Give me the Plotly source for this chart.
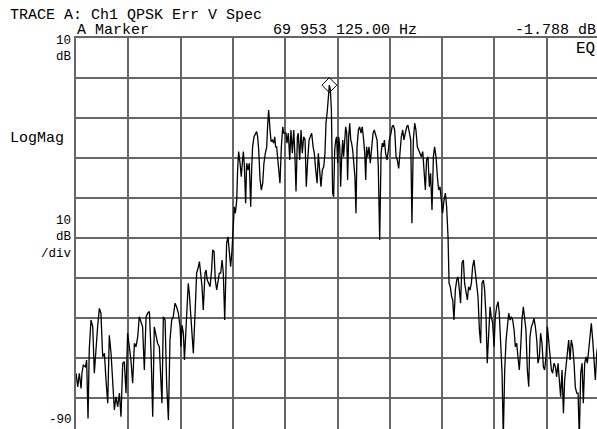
import plotly.graph_objects as go

# ---- data ----
freq_mhz = [
    68.500, 68.510, 68.519, 68.529, 68.534, 68.542, 68.554, 68.561, 68.569, 68.576,
    68.586, 68.596, 68.605, 68.615, 68.624, 68.634, 68.643, 68.653, 68.663, 68.672,
    68.682, 68.691, 68.701, 68.710, 68.720, 68.729, 68.739, 68.749, 68.758, 68.768,
    68.777, 68.787, 68.796, 68.806, 68.815, 68.825, 68.835, 68.844, 68.854, 68.863,
    68.873, 68.882, 68.892, 68.902, 68.911, 68.921, 68.930, 68.940, 68.949, 68.959,
    68.968, 68.978, 68.988, 68.993, 69.001, 69.011, 69.020, 69.030, 69.039, 69.049,
    69.058, 69.068, 69.077, 69.087, 69.097,
    69.102, 69.108, 69.116, 69.122, 69.129, 69.135, 69.144, 69.150, 69.158, 69.165,
    69.173, 69.183, 69.192, 69.202, 69.208, 69.215, 69.223, 69.230, 69.240, 69.246,
    69.253, 69.261, 69.269, 69.278, 69.284, 69.292, 69.299, 69.307, 69.315, 69.322,
    69.330, 69.338, 69.345, 69.353, 69.359, 69.364, 69.372, 69.380, 69.387, 69.395,
    69.403, 69.408, 69.414, 69.422, 69.427, 69.433, 69.441, 69.448, 69.454, 69.460,
    69.466, 69.473, 69.479, 69.487, 69.494, 69.502, 69.508, 69.513, 69.521, 69.529,
    69.536, 69.542, 69.548, 69.556, 69.563, 69.571, 69.578, 69.586, 69.594, 69.599,
    69.605, 69.613, 69.619, 69.626, 69.634, 69.640, 69.645, 69.651, 69.659, 69.664,
    69.670, 69.678, 69.686, 69.691,
    69.705, 69.710, 69.718, 69.726, 69.733, 69.741, 69.749, 69.756, 69.762, 69.770,
    69.775, 69.783, 69.791, 69.798, 69.806, 69.814, 69.821, 69.829, 69.837, 69.844,
    69.852, 69.860, 69.867, 69.875, 69.883, 69.890, 69.898, 69.905, 69.913, 69.921,
    69.928, 69.934, 69.942, 69.947, 69.953125, 69.959, 69.965, 69.969, 69.972, 69.978,
    69.984, 69.990, 69.995, 70.001, 70.007, 70.013, 70.018, 70.024, 70.030, 70.035,
    70.041, 70.047, 70.053, 70.058, 70.064, 70.070, 70.076, 70.081, 70.087, 70.093,
    70.100, 70.106, 70.112, 70.120, 70.127, 70.135, 70.142, 70.150, 70.156, 70.162,
    70.167, 70.173, 70.181, 70.188, 70.196, 70.204, 70.211, 70.219, 70.227, 70.234,
    70.242, 70.250, 70.257, 70.263, 70.269, 70.276, 70.284, 70.292, 70.297,
    70.307, 70.313, 70.320, 70.328, 70.336, 70.343, 70.351, 70.359, 70.366, 70.374,
    70.381, 70.389, 70.397, 70.404, 70.412, 70.420, 70.427, 70.435, 70.443, 70.450,
    70.458, 70.466, 70.473, 70.481, 70.489, 70.496, 70.504, 70.511, 70.519, 70.527,
    70.534, 70.542, 70.550, 70.557, 70.565, 70.573, 70.580, 70.588, 70.596, 70.603,
    70.611, 70.619, 70.626, 70.634, 70.640, 70.647, 70.655, 70.661, 70.668, 70.676,
    70.684, 70.691, 70.699, 70.706, 70.714, 70.722, 70.729, 70.737, 70.745, 70.752,
    70.760, 70.768, 70.775, 70.783, 70.791, 70.798, 70.806, 70.814, 70.821, 70.829,
    70.837, 70.844, 70.852, 70.859, 70.867,
    70.875, 70.882, 70.890, 70.898, 70.905, 70.913, 70.921, 70.928, 70.936, 70.944,
    70.951, 70.959, 70.967, 70.974, 70.982, 70.990, 70.997, 71.005, 71.013, 71.020,
    71.028, 71.035, 71.043, 71.051, 71.058, 71.066, 71.074, 71.081, 71.089, 71.097,
    71.104, 71.112, 71.120, 71.127, 71.135, 71.143, 71.150, 71.158, 71.165, 71.173,
    71.181, 71.188, 71.196, 71.204, 71.211, 71.219, 71.227, 71.234, 71.242, 71.250,
    71.257, 71.265, 71.273, 71.280, 71.288, 71.296, 71.303, 71.311, 71.318, 71.326,
    71.334, 71.341, 71.349, 71.357, 71.364, 71.372, 71.380, 71.387, 71.395, 71.403,
    71.410, 71.418, 71.426, 71.433, 71.441, 71.449, 71.456, 71.464, 71.471, 71.479,
    71.487, 71.496,
]

level_db = [
    -73.8, -77.2, -73.8, -77.6, -73.8, -71.8, -72.2, -70.5, -85.1, -68.0,
    -60.5, -62.2, -73.8, -67.2, -62.2, -57.6, -58.8, -69.7, -68.8, -75.5,
    -81.3, -64.3, -68.8, -75.5, -83.0, -79.7, -82.2, -78.8, -84.7, -71.3,
    -70.9, -78.8, -63.8, -67.2, -70.5, -76.3, -66.3, -67.2, -64.7, -59.7,
    -61.3, -62.2, -73.0, -59.7, -58.8, -58.4, -68.0, -84.7, -62.2, -64.7,
    -66.3, -67.2, -74.7, -81.3, -59.7, -60.5, -76.3, -85.5, -65.5, -60.5,
    -59.7, -56.3, -57.2, -58.8, -62.2,
    -67.2, -61.8, -63.8, -70.5, -64.7, -58.0, -51.3, -53.8, -58.8, -62.2,
    -68.8, -58.8, -48.8, -47.2, -45.9, -48.8, -52.2, -58.0, -48.8, -48.0,
    -50.5, -51.3, -52.2, -48.0, -43.0, -43.4, -50.5, -53.0, -50.5, -48.8,
    -48.8, -45.5, -48.8, -60.5, -50.5, -41.3, -39.7, -43.8, -47.2, -43.0,
    -38.0, -32.2, -33.8, -30.5, -23.0, -18.4, -21.3, -24.7, -21.3, -18.4,
    -22.2, -31.3, -21.3, -23.0, -21.3, -32.2, -22.2, -17.2, -14.7, -13.8,
    -13.4, -14.7, -18.0, -25.5, -28.0, -26.3, -21.3, -18.8, -17.2, -12.2,
    -8.0, -13.0, -15.9, -15.5, -16.3, -14.7, -17.2, -17.2, -20.5, -23.8,
    -26.3, -17.2, -12.2, -13.8,
    -13.8, -16.3, -13.8, -20.5, -13.0, -18.8, -13.0, -19.7, -28.4, -14.7,
    -13.8, -20.5, -13.0, -18.8, -14.7, -15.5, -27.2, -20.5, -15.5, -14.7,
    -13.8, -17.2, -18.8, -23.0, -26.3, -18.8, -23.8, -27.2, -23.0, -22.2,
    -18.8, -11.3, -8.0, -3.8, -1.788, -3.0, -8.0, -19.7, -28.8, -29.7,
    -18.0, -15.5, -14.7, -21.3, -14.7, -17.2, -27.2, -19.7, -15.5, -19.7,
    -14.7, -12.2, -13.8, -25.5, -14.7, -11.3, -15.5, -16.3, -18.0, -21.3,
    -24.7, -33.8, -17.2, -13.0, -12.2, -13.8, -12.2, -15.5, -18.8, -25.5,
    -17.2, -19.7, -17.2, -21.3, -16.3, -13.8, -13.0, -14.7, -15.5, -22.2,
    -40.5, -18.8, -16.3, -17.2, -15.5, -18.8, -20.5, -18.0, -15.5,
    -13.8, -12.2, -11.8, -13.0, -19.7, -20.5, -22.6, -17.2, -14.7, -13.0,
    -15.5, -13.8, -12.2, -11.8, -13.8, -15.5, -36.3, -15.5, -11.3, -13.0,
    -17.2, -18.0, -18.8, -19.7, -18.4, -23.8, -28.0, -20.5, -19.7, -27.2,
    -23.8, -33.0, -19.7, -17.2, -19.7, -24.7, -28.0, -27.2, -31.3, -33.8,
    -30.5, -28.8, -32.2, -39.7, -51.3, -52.2, -54.7, -55.5, -60.5, -53.0,
    -50.5, -49.7, -53.0, -56.3, -46.3, -45.5, -51.3, -53.0, -55.5, -52.2,
    -53.0, -51.3, -47.2, -45.5, -48.8, -50.5, -54.7, -63.0, -66.3, -51.3,
    -50.5, -53.0, -59.7, -71.3, -63.0,
    -57.2, -59.7, -61.3, -67.2, -59.7, -57.2, -55.9, -58.8, -67.2, -73.8,
    -90.0, -73.0, -65.5, -61.3, -58.8, -60.5, -59.7, -60.5, -63.0, -67.2,
    -66.3, -69.7, -73.0, -67.2, -60.5, -57.2, -59.7, -63.0, -73.0, -77.2,
    -64.7, -62.2, -61.3, -60.1, -62.2, -65.5, -71.3, -69.7, -63.8, -66.3,
    -72.2, -73.0, -69.7, -62.2, -65.5, -70.5, -73.0, -73.8, -71.3, -72.2,
    -74.7, -71.3, -75.5, -79.7, -73.0, -83.8, -75.5, -72.2, -68.0, -65.5,
    -70.5, -65.5, -67.2, -71.3, -77.2, -78.8, -78.8, -90.0, -73.8, -71.3,
    -81.3, -71.3, -69.7, -71.3, -68.0, -63.0, -61.3, -65.5, -69.7, -75.5,
    -68.8, -66.0,
]

marker_freq = [69.953125]
marker_db = [-1.788]

span_start, span_stop = 68.5, 71.5   # MHz, 10 divisions
ref_level, db_per_div = 10, 10

# ---- layout geometry ----
W, H = 597, 429
L, T = 76, 38
plot_w = W - L            # visible part of the 523 px graticule
plot_h = H - T            # visible part of the 400 px graticule
full_w, full_h = 523, 400

x_end = span_start + (span_stop - span_start) * plot_w / full_w
y_end = ref_level - 10 * db_per_div * plot_h / full_h

GRID = "#666666"
FONT = "Liberation Mono, DejaVu Sans Mono, monospace"

fig = go.Figure()
fig.add_trace(go.Scatter(
    x=freq_mhz, y=level_db, mode="lines",
    line=dict(color="black", width=1.3),
    hoverinfo="skip", showlegend=False,
))
fig.add_trace(go.Scatter(
    x=marker_freq, y=marker_db, mode="markers",
    marker=dict(symbol="diamond-open", size=11.5, color="black",
                line=dict(color="black", width=1)),
    showlegend=False,
))

def px(x):
    return (x - L) / plot_w

def py(y):
    return (H - y) / plot_h

def label(text, x, y, anchor="left", size=15):
    fig.add_annotation(text=text, x=px(x), y=py(y), xref="paper", yref="paper",
                       xanchor=anchor, yanchor="middle", showarrow=False,
                       borderpad=0, align=anchor,
                       font=dict(family=FONT, size=size, color="black"))

label("TRACE A: Ch1 QPSK Err V Spec", 9, 16)
label("A Marker", 76, 30)
label("69 953 125.00 Hz", 272, 30)
label("-1.788 dB", 597, 30, "right")
label("EQ", 596, 49, "right", 16)
label("10<br>dB", 73, 49, "right", 12.5)
label("LogMag", 9, 138)
label("10<br>dB<br>/div", 73, 238, "right", 12.5)
label("-90<br>dB", 73, 428, "right", 12.5)

fig.update_layout(
    width=W, height=H,
    margin=dict(l=L, r=0, t=T, b=0, pad=0, autoexpand=False),
    paper_bgcolor="white", plot_bgcolor="white",
    xaxis=dict(range=[span_start, x_end], tick0=span_start,
               dtick=(span_stop - span_start) / 10,
               showgrid=True, gridcolor=GRID, gridwidth=2,
               showline=True, linecolor=GRID, linewidth=2, mirror=True,
               showticklabels=False, ticks="", zeroline=False, fixedrange=True),
    yaxis=dict(range=[y_end, ref_level], tick0=ref_level, dtick=db_per_div,
               showgrid=True, gridcolor=GRID, gridwidth=2,
               showline=True, linecolor=GRID, linewidth=2, mirror=True,
               showticklabels=False, ticks="", zeroline=False, fixedrange=True),
)

fig.write_html(
    "out.html",
    config={"displayModeBar": False},
    post_script="document.body.style.margin='0';document.body.style.padding='0';"
                "document.documentElement.style.overflow='hidden';",
)
